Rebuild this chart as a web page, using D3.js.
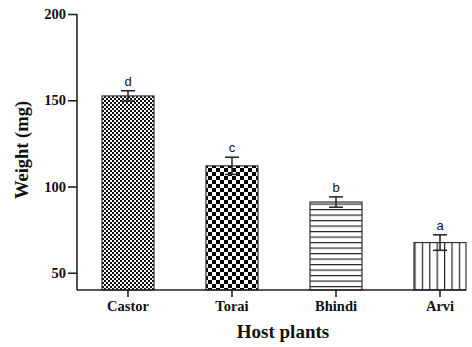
<!DOCTYPE html>
<html>
<head>
<meta charset="utf-8">
<script src="https://cdn.jsdelivr.net/npm/d3@7"></script>
<style>
  body { margin: 0; background: #fff; }
  svg { display: block; }
</style>
</head>
<body>
<svg id="chart" width="472" height="347"></svg>
<script>
// data
var plants = ['Castor', 'Torai', 'Bhindi', 'Arvi'];
var weights = [152.5, 112, 91, 67.5];
var errors = [3, 5, 3, 4.5];
var letters = ['d', 'c', 'b', 'a'];
var yTicks = [50, 100, 150, 200];

var svg = d3.select('#chart');
var ink = '#222';

// fill patterns, one per host plant
var defs = svg.append('defs');

var p1 = defs.append('pattern').attr('id', 'pat0')
  .attr('patternUnits', 'userSpaceOnUse').attr('width', 4).attr('height', 4);
p1.append('rect').attr('width', 4).attr('height', 4).attr('fill', '#fff');
p1.append('rect').attr('width', 2).attr('height', 2).attr('fill', '#111');
p1.append('rect').attr('x', 2).attr('y', 2).attr('width', 2).attr('height', 2).attr('fill', '#111');

var p2 = defs.append('pattern').attr('id', 'pat1')
  .attr('patternUnits', 'userSpaceOnUse').attr('width', 8).attr('height', 8);
p2.append('rect').attr('width', 8).attr('height', 8).attr('fill', '#fff');
p2.append('rect').attr('width', 4).attr('height', 4).attr('fill', '#000');
p2.append('rect').attr('x', 4).attr('y', 4).attr('width', 4).attr('height', 4).attr('fill', '#000');

var p3 = defs.append('pattern').attr('id', 'pat2')
  .attr('patternUnits', 'userSpaceOnUse').attr('width', 6).attr('height', 5.5);
p3.append('rect').attr('width', 6).attr('height', 5.5).attr('fill', '#fff');
p3.append('line').attr('x1', 0).attr('x2', 6).attr('y1', 0.6).attr('y2', 0.6)
  .attr('stroke', '#222').attr('stroke-width', 1.2);

var p4 = defs.append('pattern').attr('id', 'pat3')
  .attr('patternUnits', 'userSpaceOnUse').attr('width', 7.4).attr('height', 6);
p4.append('rect').attr('width', 7.4).attr('height', 6).attr('fill', '#fff');
p4.append('line').attr('x1', 0.6).attr('x2', 0.6).attr('y1', 0).attr('y2', 6)
  .attr('stroke', '#222').attr('stroke-width', 1.2);

var x = d3.scaleBand().domain(plants).range([76, 492]).paddingInner(0.5).paddingOuter(0.25);
var y = d3.scaleLinear().domain([40, 200]).range([290, 14]);

// bars
svg.selectAll('rect.bar').data(plants).enter().append('rect')
  .attr('class', 'bar')
  .attr('x', function(d) { return x(d); })
  .attr('width', x.bandwidth())
  .attr('y', function(d, i) { return y(weights[i]); })
  .attr('height', function(d, i) { return y(40) - y(weights[i]); })
  .attr('fill', function(d, i) { return 'url(#pat' + i + ')'; })
  .attr('stroke', '#333').attr('stroke-width', 1.2);

// error bars
var eb = svg.selectAll('g.err').data(plants).enter().append('g')
  .attr('transform', function(d) { return 'translate(' + (x(d) + x.bandwidth() / 2) + ',0)'; })
  .attr('stroke', ink).attr('stroke-width', 1.5);
eb.append('line')
  .attr('y1', function(d, i) { return y(weights[i] + errors[i]); })
  .attr('y2', function(d, i) { return y(weights[i] - errors[i]); });
eb.append('line').attr('x1', -7).attr('x2', 7)
  .attr('y1', function(d, i) { return y(weights[i] + errors[i]); })
  .attr('y2', function(d, i) { return y(weights[i] + errors[i]); });
eb.append('line').attr('x1', -7).attr('x2', 7)
  .attr('y1', function(d, i) { return y(weights[i] - errors[i]); })
  .attr('y2', function(d, i) { return y(weights[i] - errors[i]); });

// significance letters
svg.selectAll('text.sig').data(plants).enter().append('text')
  .attr('x', function(d) { return x(d) + x.bandwidth() / 2; })
  .attr('y', function(d, i) { return y(weights[i] + errors[i]) - 5; })
  .attr('text-anchor', 'middle')
  .style('font-family', 'Liberation Sans, Arial, sans-serif')
  .style('font-size', '13px')
  .attr('fill', '#111')
  .text(function(d, i) { return letters[i]; });

// y axis
var yAxis = svg.append('g').attr('transform', 'translate(77,0)')
  .call(d3.axisLeft(y).tickValues(yTicks).tickSize(9).tickPadding(2));
yAxis.select('.domain').attr('d', 'M0,' + y(200) + 'V' + y(40));

// x axis
var xAxis = svg.append('g').attr('transform', 'translate(0,290)')
  .call(d3.axisBottom(x).tickSize(7).tickPadding(4));
xAxis.select('.domain').attr('d', 'M77,0H466');

svg.selectAll('.domain, .tick line').attr('stroke', ink).attr('stroke-width', 1.6);
svg.selectAll('.tick text')
  .style('font-family', 'Liberation Serif, Times New Roman, serif')
  .style('font-weight', 'bold')
  .style('font-size', '14.5px')
  .attr('fill', '#111');

// axis titles
svg.append('text')
  .attr('transform', 'translate(28,150) rotate(-90)')
  .attr('text-anchor', 'middle')
  .style('font-family', 'Liberation Serif, Times New Roman, serif')
  .style('font-weight', 'bold').style('font-size', '18.5px')
  .attr('fill', '#111')
  .text('Weight (mg)');

svg.append('text')
  .attr('x', 283).attr('y', 338)
  .attr('text-anchor', 'middle')
  .style('font-family', 'Liberation Serif, Times New Roman, serif')
  .style('font-weight', 'bold').style('font-size', '19px')
  .attr('fill', '#111')
  .text('Host plants');
</script>
</body>
</html>
